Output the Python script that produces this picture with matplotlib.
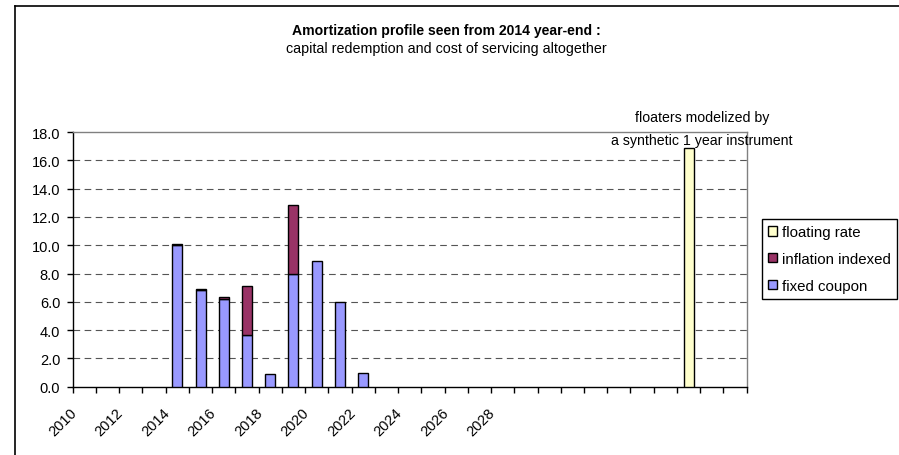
# Amortization profile chart (Excel style stacked bars)

import numpy as np
import matplotlib.pyplot as plt
from matplotlib.lines import Line2D
from matplotlib.patches import Patch
from matplotlib.transforms import ScaledTranslation

plt.rcParams['font.family'] = ['Liberation Sans', 'DejaVu Sans']
plt.rcParams['lines.scale_dashes'] = False

# data
years = list(range(2010, 2039))
year_labels = ['2010', '', '2012', '', '2014', '', '2016', '', '2018', '',
               '2020', '', '2022', '', '2024', '', '2026', '', '2028', '',
               '', '', '', '', '', '', '', '', '']
fixed_coupon = [0, 0, 0, 0, 10.0, 6.8, 6.2, 3.65, 0.87, 8.0, 8.9, 6.0, 0.97, 0,
                0, 0, 0, 0, 0, 0, 0, 0, 0, 0, 0, 0, 0, 0, 0]
inflation_indexed = [0, 0, 0, 0, 0.1, 0.1, 0.12, 3.5, 0, 4.85, 0, 0, 0, 0,
                     0, 0, 0, 0, 0, 0, 0, 0, 0, 0, 0, 0, 0, 0, 0]
floating_rate = [0, 0, 0, 0, 0, 0, 0, 0, 0, 0, 0, 0, 0, 0,
                 0, 0, 0, 0, 0, 0, 0, 0, 0, 0, 0, 0, 16.9, 0, 0]

c_fixed = '#9999FF'
c_infl = '#993366'
c_float = '#FFFFCC'

fig = plt.figure(figsize=(8.99, 4.56), dpi=100)
ax = fig.add_axes([72.7 / 899, 1 - 387.7 / 456, 674 / 899, 254.7 / 456])

x = np.arange(len(years))
fixed = np.array(fixed_coupon)
infl = np.array(inflation_indexed)
flt = np.array(floating_rate)
w = 0.43
m = fixed > 0
ax.bar(x[m], fixed[m], width=w, color=c_fixed, edgecolor='black', linewidth=1, zorder=3)
m = infl > 0
ax.bar(x[m], infl[m], bottom=fixed[m], width=w, color=c_infl, edgecolor='black', linewidth=1, zorder=3)
m = flt > 0
ax.bar(x[m], flt[m], width=w, color=c_float, edgecolor='black', linewidth=1, zorder=3)

ax.set_xlim(-0.5, len(years) - 0.5)
ax.set_ylim(0, 18)
ax.set_yticks(np.arange(0, 18.1, 2))
ax.set_yticklabels(['%.1f' % v for v in np.arange(0, 18.1, 2)], fontsize=10.5)
for v in np.arange(2, 17, 2):
    ax.axhline(v, color='#555555', lw=0.8, dashes=(4.8, 3.2), zorder=1)

# tick marks between categories, labels at category centres
ax.set_xticks(np.arange(-0.5, len(years)))
ax.set_xticklabels([])
ax.set_xticks(x, minor=True)
ax.set_xticklabels(year_labels, minor=True, rotation=45, ha='right', va='center',
                   rotation_mode='anchor', fontsize=10.5)
ax.tick_params(axis='x', which='minor', length=0, pad=16.5)
ax.tick_params(axis='x', which='major', length=4, width=1, direction='out')
ax.tick_params(axis='y', length=4, width=1, direction='out', pad=5)
off = ScaledTranslation(-0.10, 0, fig.dpi_scale_trans)
for lab in ax.get_xticklabels(minor=True):
    lab.set_transform(lab.get_transform() + off)

for s in ['left', 'bottom']:
    ax.spines[s].set_color('black')
    ax.spines[s].set_linewidth(1)
for s in ['top', 'right']:
    ax.spines[s].set_color('#808080')
    ax.spines[s].set_linewidth(1)

# titles
fig.text(446 / 899, 1 - 31 / 456, 'Amortization profile seen from 2014 year-end :',
         ha='center', va='center', fontsize=10.1, fontweight='bold')
fig.text(446 / 899, 1 - 49 / 456, 'capital redemption and cost of servicing altogether',
         ha='center', va='center', fontsize=10.3)
fig.text(702.5 / 899, 1 - 118 / 456, 'floaters modelized by',
         ha='center', va='center', fontsize=10.2)
fig.text(702 / 899, 1 - 141 / 456, 'a synthetic 1 year instrument',
         ha='center', va='center', fontsize=10.2)

handles = [Patch(facecolor=c_float, edgecolor='black', lw=1),
           Patch(facecolor=c_infl, edgecolor='black', lw=1),
           Patch(facecolor=c_fixed, edgecolor='black', lw=1)]
leg = fig.legend(handles, ['floating rate', 'inflation indexed', 'fixed coupon'],
                 loc='upper left', bbox_to_anchor=(762 / 899, 1 - 220 / 456),
                 fontsize=10.8, handlelength=0.55, handleheight=0.55, handletextpad=0.33,
                 labelspacing=0.85, borderpad=0.42, borderaxespad=0, fancybox=False,
                 framealpha=1, edgecolor='black')
leg.get_frame().set_linewidth(1)

# outer chart border (left and top visible only)
fig.add_artist(Line2D([15 / 899, 15 / 899], [0, 1 - 7 / 456], color='black', lw=1.2,
                      transform=fig.transFigure))
fig.add_artist(Line2D([15 / 899, 1], [1 - 7 / 456, 1 - 7 / 456], color='black', lw=1.2,
                      transform=fig.transFigure))

fig.savefig('out.png', dpi=100)
